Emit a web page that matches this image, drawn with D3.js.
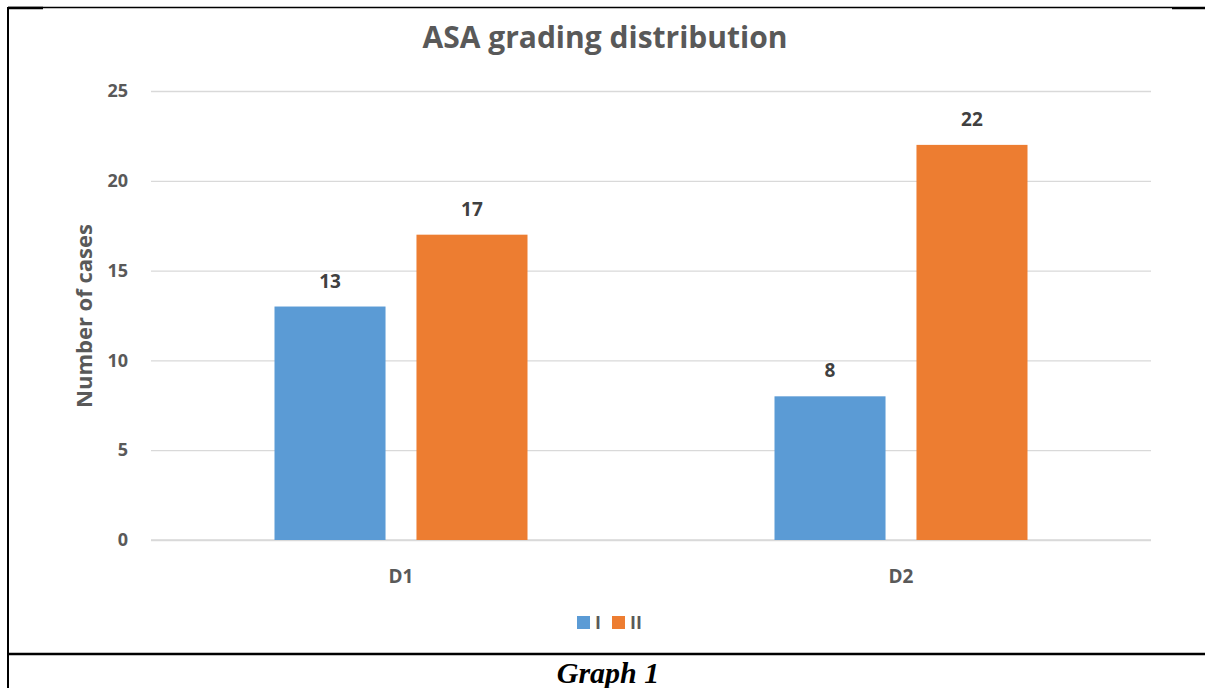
<!DOCTYPE html>
<html>
<head>
<meta charset="utf-8">
<script src="https://cdn.jsdelivr.net/npm/d3@7"></script>
<style>
  html, body { margin: 0; padding: 0; background: #fff; }
  svg { display: block; }
</style>
</head>
<body>
<script>
const categories = ["D1", "D2"];
const seriesNames = ["I", "II"];
const seriesI = [13, 8];
const seriesII = [17, 22];
const yTicks = [0, 5, 10, 15, 20, 25];
const colors = ["#5B9BD5", "#ED7D31"];

const W = 1205, H = 688;
const svg = d3.select("body").append("svg").attr("width", W).attr("height", H);

// table frame
const frame = svg.append("g").attr("stroke", "#000");
frame.append("line").attr("x1", 8).attr("x2", 1172).attr("y1", 7.5).attr("y2", 7.5).attr("stroke-width", 1.5);
frame.append("line").attr("x1", 8).attr("x2", 43).attr("y1", 8).attr("y2", 8).attr("stroke-width", 2.5);
frame.append("line").attr("x1", 1172).attr("x2", 1205).attr("y1", 8).attr("y2", 8).attr("stroke-width", 2.5);
frame.append("line").attr("x1", 8).attr("x2", 8).attr("y1", 7).attr("y2", H).attr("stroke-width", 2);
frame.append("line").attr("x1", 8).attr("x2", W).attr("y1", 654).attr("y2", 654).attr("stroke-width", 2.5);

svg.append("text").attr("x", 608).attr("y", 683).attr("text-anchor", "middle")
  .attr("font-family", "'Liberation Serif', 'Times New Roman', serif")
  .attr("font-weight", "bold").attr("font-style", "italic").attr("font-size", 30)
  .text("Graph 1");

const font = "'Open Sans', 'Noto Sans', sans-serif";
const gray = "#595959";

// scales
const y = d3.scaleLinear().domain([0, 25]).range([540, 91]);
const x0 = d3.scaleBand().domain(categories).range([151, 1151]).paddingInner(0.494).paddingOuter(0.247);
const x1 = d3.scaleBand().domain(seriesNames).range([0, x0.bandwidth()]).paddingInner(0.218);

// gridlines
const yAxis = d3.axisLeft(y).tickValues(yTicks).tickSize(-1000).tickPadding(23);
const gy = svg.append("g").attr("transform", "translate(151,0)").call(yAxis);
gy.select(".domain").remove();
gy.selectAll(".tick line").attr("stroke", "#d9d9d9").attr("stroke-width", 1.3);
gy.selectAll(".tick text").attr("font-family", font).attr("font-weight", "bold")
  .attr("font-size", 18).attr("fill", gray);

// x axis labels
const xAxis = d3.axisBottom(x0).tickSize(0).tickPadding(30);
const gx = svg.append("g").attr("transform", "translate(0,540)").call(xAxis);
gx.select(".domain").remove();
gx.selectAll(".tick text").attr("font-family", font).attr("font-weight", "bold")
  .attr("font-size", 19).attr("fill", gray);

// baseline
svg.append("line").attr("x1", 151).attr("x2", 1151).attr("y1", y(0)).attr("y2", y(0))
  .attr("stroke", "#d9d9d9").attr("stroke-width", 1.3);

// bars
const data = categories.map((c, i) => ({ cat: c, vals: [
  { s: seriesNames[0], v: seriesI[i], c: colors[0] },
  { s: seriesNames[1], v: seriesII[i], c: colors[1] }
]}));

const groups = svg.append("g").selectAll("g").data(data).join("g")
  .attr("transform", d => `translate(${x0(d.cat)},0)`);
groups.selectAll("rect").data(d => d.vals).join("rect")
  .attr("x", d => x1(d.s)).attr("width", x1.bandwidth())
  .attr("y", d => y(d.v)).attr("height", d => y(0) - y(d.v))
  .attr("fill", d => d.c);
groups.selectAll("text").data(d => d.vals).join("text")
  .attr("x", d => x1(d.s) + x1.bandwidth() / 2).attr("y", d => y(d.v) - 19)
  .attr("text-anchor", "middle").attr("font-family", font).attr("font-weight", "bold")
  .attr("font-size", 19).attr("fill", "#404040").text(d => d.v);

// title
svg.append("text").attr("x", 605).attr("y", 48).attr("text-anchor", "middle")
  .attr("font-family", font).attr("font-weight", "bold").attr("font-size", 30)
  .attr("fill", gray).text("ASA grading distribution");

// y-axis title
svg.append("text").attr("transform", "translate(92,316) rotate(-90)")
  .attr("text-anchor", "middle").attr("font-family", font).attr("font-weight", "bold")
  .attr("font-size", 22).attr("fill", gray).text("Number of cases");

// legend
const legend = svg.append("g");
const legendX = [577, 612];
seriesNames.forEach((s, i) => {
  legend.append("rect").attr("x", legendX[i]).attr("y", 616).attr("width", 13).attr("height", 13).attr("fill", colors[i]);
  legend.append("text").attr("x", legendX[i] + 18).attr("y", 629)
    .attr("font-family", font).attr("font-weight", "bold").attr("font-size", 18)
    .attr("fill", gray).text(s);
});
</script>
</body>
</html>
